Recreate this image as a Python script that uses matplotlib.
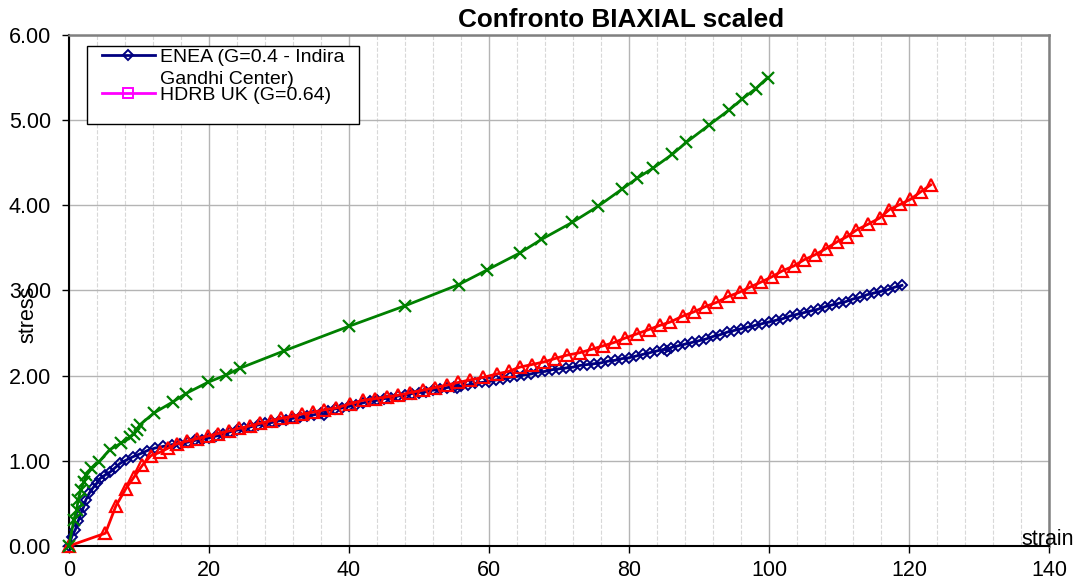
import matplotlib
matplotlib.use('Agg')
import matplotlib.pyplot as plt
from matplotlib.patches import Rectangle
from matplotlib.lines import Line2D
from matplotlib.ticker import MultipleLocator, FormatStrFormatter

plt.rcParams['font.family'] = ['Liberation Sans', 'DejaVu Sans']

# ENEA (G=0.4 - Indira Gandhi Center), navy diamonds
enea_strain = [0, 0.4, 0.9, 1.3, 1.7, 2.1, 2.4, 2.9, 3.4, 4.0, 4.4, 5.1, 5.9, 6.6, 7.3, 8.2,
               9.2, 10.1, 11.2, 12.3, 13.5, 14.7, 15.9,
               17, 18, 19, 20, 21, 22, 23, 24, 25, 26, 27, 28, 29, 30, 31, 32, 33, 34, 35,
               36, 36.5, 37, 38, 39, 40, 41, 42, 43, 44, 45, 46, 47, 48, 49, 50, 51, 52, 53,
               54, 55, 55.5, 56, 57, 58, 59, 60, 61, 62, 63, 64, 65, 66, 67, 68, 69, 70, 71,
               72, 73, 74, 75, 76, 77, 78, 79, 80, 81, 82, 83, 84, 85, 85.5, 86, 87, 88, 89,
               90, 91, 92, 93, 94, 95, 96, 97, 98, 99, 100, 101, 102, 103, 104, 105, 106, 107,
               108, 109, 110, 111, 112, 113, 114, 115, 116, 117, 118, 119]
enea_stress = [0, 0.11, 0.19, 0.29, 0.38, 0.46, 0.54, 0.62, 0.68, 0.74, 0.79, 0.83, 0.87, 0.92,
               0.97, 1.01, 1.05, 1.08, 1.12, 1.15, 1.17, 1.19, 1.20,
               1.22, 1.24, 1.25, 1.27, 1.29, 1.31, 1.34, 1.36, 1.38, 1.40, 1.42, 1.44, 1.45,
               1.47, 1.48, 1.50, 1.51, 1.53, 1.54, 1.56, 1.54, 1.59, 1.61, 1.62, 1.64, 1.66,
               1.68, 1.70, 1.71, 1.73, 1.74, 1.76, 1.77, 1.79, 1.80, 1.81, 1.83, 1.84, 1.86,
               1.87, 1.85, 1.88, 1.89, 1.91, 1.92, 1.93, 1.95, 1.96, 1.98, 1.99, 2.01, 2.02,
               2.04, 2.05, 2.07, 2.08, 2.09, 2.10, 2.12, 2.13, 2.14, 2.15, 2.17, 2.18, 2.20,
               2.21, 2.23, 2.25, 2.27, 2.29, 2.31, 2.29, 2.33, 2.35, 2.37, 2.39, 2.41, 2.43,
               2.46, 2.48, 2.51, 2.53, 2.55, 2.57, 2.59, 2.61, 2.63, 2.65, 2.67, 2.70, 2.72,
               2.74, 2.76, 2.78, 2.81, 2.83, 2.85, 2.87, 2.90, 2.92, 2.95, 2.97, 2.99, 3.01,
               3.04, 3.06]

# red triangles
red_strain = [0, 5.2, 6.7, 8.1, 9.3, 10.5, 11.7, 13.0, 14.2, 15.4, 16.8, 18.3, 19.8, 21.3,
              22.8, 24.3, 25.8, 27.3, 28.8, 30.3, 31.8, 33.3, 34.8, 36.5, 38.2, 40.1, 42.0,
              43.7, 45.4, 47.0, 48.7, 50.6, 52.3, 54.0, 55.6, 57.3, 59.2, 61.1, 62.8, 64.4,
              66.1, 67.8, 69.4, 71.1, 73.0, 74.7, 76.3, 77.9, 79.4, 81.1, 82.8, 84.4, 85.9,
              87.7, 89.3, 90.9, 92.5, 94.2, 95.8, 97.3, 98.9, 100.4, 101.9, 103.6, 105.0,
              106.6, 108.1, 109.7, 111.1, 112.5, 114.2, 115.8, 117.2, 118.7, 120.2, 121.7,
              123.1]
red_stress = [0, 0.15, 0.47, 0.67, 0.81, 0.95, 1.06, 1.10, 1.15, 1.20, 1.23, 1.26, 1.29,
              1.32, 1.35, 1.38, 1.41, 1.44, 1.47, 1.50, 1.52, 1.55, 1.57, 1.60, 1.62, 1.67,
              1.71, 1.73, 1.75, 1.77, 1.80, 1.83, 1.86, 1.89, 1.92, 1.95, 1.98, 2.02, 2.05,
              2.10, 2.13, 2.16, 2.20, 2.24, 2.27, 2.31, 2.35, 2.39, 2.44, 2.49, 2.54, 2.59,
              2.63, 2.70, 2.75, 2.81, 2.86, 2.93, 2.98, 3.04, 3.10, 3.16, 3.23, 3.29, 3.36,
              3.42, 3.49, 3.57, 3.63, 3.71, 3.78, 3.85, 3.95, 4.01, 4.07, 4.16, 4.24]

# green crosses
green_strain = [0, 0.7, 1.1, 1.3, 1.7, 2.1, 2.5, 3.2, 4.3, 5.8, 7.5, 8.7, 9.3, 9.7, 10.1,
                12.1, 14.8, 16.7, 19.8, 22.5, 24.5, 30.7, 40.0, 48.0, 55.7, 59.7, 64.4, 67.5,
                71.9, 75.6, 79.0, 81.2, 83.5, 86.2, 88.2, 91.4, 94.3, 96.2, 98.1, 99.8]
green_stress = [0, 0.31, 0.42, 0.54, 0.66, 0.75, 0.83, 0.91, 0.99, 1.13, 1.21, 1.28, 1.32,
                1.36, 1.42, 1.56, 1.69, 1.79, 1.92, 2.01, 2.09, 2.29, 2.58, 2.82, 3.07, 3.24,
                3.44, 3.60, 3.80, 3.99, 4.19, 4.32, 4.44, 4.60, 4.74, 4.94, 5.12, 5.25, 5.37,
                5.50]

fig = plt.figure(figsize=(10.78, 5.83), dpi=100)
ax = fig.add_axes([0.064, 0.0635, 0.9091, 0.8765])

ax.plot(enea_strain, enea_stress, color='#000080', lw=2, marker='D', ms=5.5,
        mfc='none', mec='#000080', mew=1.4, clip_on=False, zorder=3)
ax.plot(red_strain, red_stress, color='#ff0000', lw=2, marker='^', ms=8,
        mfc='none', mec='#ff0000', mew=1.6, clip_on=False, zorder=3)
ax.plot(green_strain, green_stress, color='#008000', lw=2, marker='x', ms=8,
        mew=1.6, clip_on=False, zorder=3)

ax.set_xlim(0, 140)
ax.set_ylim(0, 6)
ax.xaxis.set_major_locator(MultipleLocator(20))
ax.xaxis.set_minor_locator(MultipleLocator(4))
ax.yaxis.set_major_locator(MultipleLocator(1))
ax.yaxis.set_major_formatter(FormatStrFormatter('%.2f'))
ax.grid(which='major', color='#b4b4b4', lw=1, zorder=0)
ax.grid(which='minor', axis='x', color='#d8d8d8', lw=0.8, ls='--', zorder=0)
ax.set_axisbelow(True)
ax.tick_params(which='major', direction='out', length=5, width=1, labelsize=15.5,
               colors='black')
ax.tick_params(axis='y', pad=8)
ax.tick_params(axis='x', pad=5)
ax.tick_params(which='minor', length=0)

for side in ['left', 'bottom']:
    ax.spines[side].set_color('black')
    ax.spines[side].set_linewidth(1.5)
for side in ['top', 'right']:
    ax.spines[side].set_color('#808080')
    ax.spines[side].set_linewidth(1.8)

ax.set_title('Confronto BIAXIAL scaled', fontsize=18.8, fontweight='bold',
             x=0.563, pad=5.5)
ax.text(-0.042, 0.454, 'stress', transform=ax.transAxes, rotation=90,
        ha='center', va='center', fontsize=15.5)
ax.text(0.9985, 0.012, 'strain', transform=ax.transAxes, ha='center', va='center',
        fontsize=15.5)

# legend box, only the two labelled series
ax.add_patch(Rectangle((0.018, 0.826), 0.278, 0.152, transform=ax.transAxes,
                       facecolor='white', edgecolor='black', lw=1, zorder=4))
handles = [Line2D([], [], color='#000080', lw=2, marker='D', ms=5.5, mfc='none',
                  mec='#000080', mew=1.4),
           Line2D([], [], color='#ff00ff', lw=2, marker='s', ms=7, mfc='none',
                  mec='#ff00ff', mew=1.4)]
leg = ax.legend(handles, ['ENEA (G=0.4 - Indira', 'HDRB UK (G=0.64)'],
                loc='upper left', bbox_to_anchor=(0.0334, 0.974), frameon=False,
                borderpad=0, borderaxespad=0, fontsize=14, handlelength=2.75,
                handletextpad=0.26, labelspacing=1.05)
leg.set_zorder(5)
ax.text(0.0929, 0.913, 'Gandhi Center)', transform=ax.transAxes, ha='left',
        va='center', fontsize=14, zorder=6)

fig.savefig('out.png', dpi=100)
